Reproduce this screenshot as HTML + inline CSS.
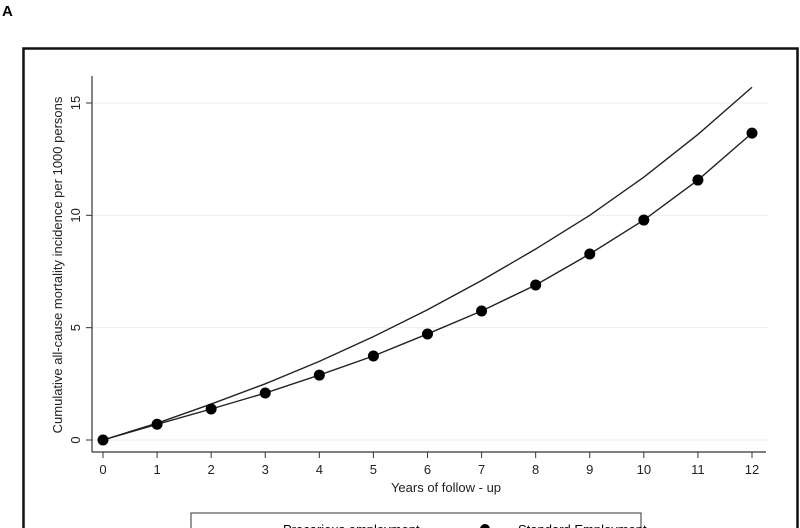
<!DOCTYPE html>
<html><head><meta charset="utf-8"><style>
body{margin:0;background:#fff;}
svg{display:block;font-family:"Liberation Sans",sans-serif;}
</style></head><body>
<svg id="chart" width="800" height="528" viewBox="0 0 800 528">
<text x="2" y="16" font-size="15" font-weight="bold">A</text>
<rect x="23.5" y="48.5" width="774" height="500" fill="none" stroke="#111" stroke-width="2.5"/>
<g id="grid"></g>
<line x1="92" y1="76" x2="92" y2="452" stroke="#333" stroke-width="1.2"/>
<line x1="92" y1="452" x2="766" y2="452" stroke="#333" stroke-width="1.2"/>
<g id="ticks"></g>
<g id="series"></g>
<text x="446" y="492" font-size="13" text-anchor="middle" fill="#222">Years of follow - up</text>
<text transform="translate(62,265) rotate(-90)" font-size="13" text-anchor="middle" fill="#222">Cumulative all-cause mortality incidence per 1000 persons</text>
<rect x="191" y="513" width="450" height="30" fill="#fff" stroke="#555" stroke-width="1.2"/>
<g><line x1="225" y1="529" x2="275" y2="529" stroke="#222"/><text x="283" y="534" font-size="13">Precarious employment</text></g>
<g><line x1="460" y1="529" x2="510" y2="529" stroke="#222"/><circle cx="485" cy="529" r="5"/><text x="518" y="534" font-size="13">Standard Employment</text></g>
</svg>
<script>
const years=[0,1,2,3,4,5,6,7,8,9,10,11,12];
const precarious=[0,0.75,1.6,2.5,3.5,4.6,5.8,7.1,8.5,10.0,11.7,13.6,15.7];
const standard=[0,0.7,1.38,2.09,2.89,3.74,4.72,5.74,6.9,8.28,9.79,11.57,13.66];
const yTicks=[0,5,10,15];
const NS="http://www.w3.org/2000/svg";
const xs=v=>103+v*(752-103)/12;
const ys=v=>440-v*(440-103)/15;
function mk(t,a,p){const e=document.createElementNS(NS,t);for(const k in a)e.setAttribute(k,a[k]);p.appendChild(e);return e;}
const grid=document.getElementById('grid'),ticks=document.getElementById('ticks'),ser=document.getElementById('series');
yTicks.forEach(v=>{
 const g=mk('line',{x1:92,x2:768,y1:ys(v),y2:ys(v),stroke:'#eee','stroke-width':1},grid);
 
 
 const t=mk('line',{x1:86,x2:92,y1:ys(v),y2:ys(v),stroke:'#333'},ticks);
 
 
 const l=mk('text',{transform:`translate(80,${ys(v)}) rotate(-90)`,'font-size':13,'text-anchor':'middle',fill:'#222'},ticks);
 l.textContent=v;
 
 
});
years.forEach(v=>{
 const t=mk('line',{x1:xs(v),x2:xs(v),y1:452,y2:458,stroke:'#333'},ticks);
 
 
 const l=mk('text',{x:xs(v),y:474,'font-size':13,'text-anchor':'middle',fill:'#222'},ticks);
 l.textContent=v;
 
 
});
const p1=mk('polyline',{points:years.map((y,i)=>xs(y)+','+ys(precarious[i])).join(' '),fill:'none',stroke:'#222','stroke-width':1.4},ser);


const p2=mk('polyline',{points:years.map((y,i)=>xs(y)+','+ys(standard[i])).join(' '),fill:'none',stroke:'#222','stroke-width':1.4},ser);


years.forEach((y,i)=>{
 const c=mk('circle',{cx:xs(y),cy:ys(standard[i]),r:5.5,fill:'#000'},ser);
 
 
});
</script>
</body></html>
